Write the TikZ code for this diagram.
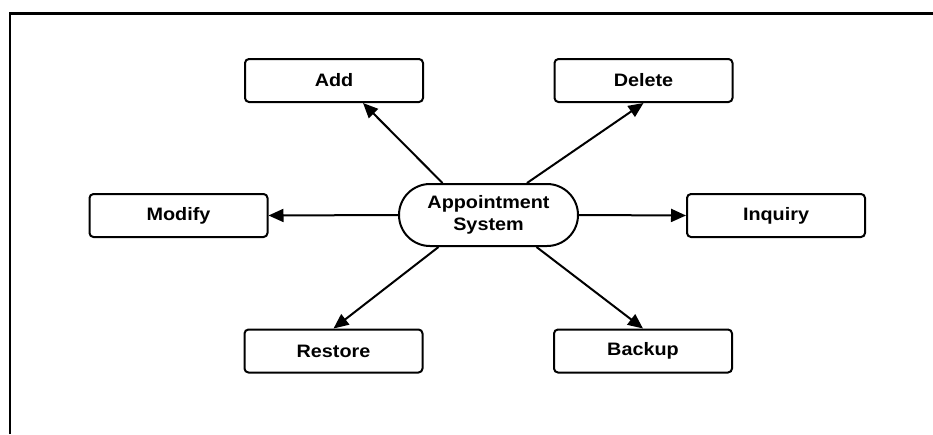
\documentclass[tikz,border=0pt]{standalone}
\usepackage{fontspec}
\setmainfont{Liberation Sans}[FakeStretch=1.1]
\usetikzlibrary{arrows.meta,shapes.misc}
\begin{document}
\begin{tikzpicture}[x=1pt,y=-1pt,
  lbl/.style={font=\fontsize{18}{22}\selectfont\bfseries, align=center},
  opbox/.style={lbl, draw, line width=2pt, rounded corners=4pt,
    minimum width=178pt, minimum height=43pt, inner sep=0pt},
  hub/.style={lbl, draw, line width=2pt, rounded rectangle,
    minimum width=179pt, minimum height=62pt, inner sep=0pt},
  link/.style={line width=2pt, -{Triangle[length=15pt,width=13pt]}}]
  \useasboundingbox (0,0) rectangle (933,434);
  % outer frame (open at right and bottom)
  \draw[line width=2.5pt] (10,434) -- (10,13.5) -- (933,13.5);

  \node[hub] (app) at (488.5,215) {Appointment\\System};
  \node[opbox] (add) at (334,80.5) {Add};
  \node[opbox] (del) at (643.5,80.5) {Delete};
  \node[opbox] (mod) at (178.5,215.5) {Modify};
  \node[opbox] (inq) at (776,215.5) {Inquiry};
  \node[opbox] (res) at (333.5,351) {Restore};
  \node[opbox] (bak) at (643,351) {Backup};

  \draw[link] ([xshift=-46pt]app.north) -- ([xshift=29pt]add.south);
  \draw[link] ([xshift=38.5pt]app.north) -- (del.south);
  \draw[link] (app.west) -- (mod.east);
  \draw[link] (app.east) -- (inq.west);
  \draw[link] ([xshift=-50pt]app.south) -- (res.north);
  \draw[link] ([xshift=48pt]app.south) -- (bak.north);
\end{tikzpicture}
\end{document}
